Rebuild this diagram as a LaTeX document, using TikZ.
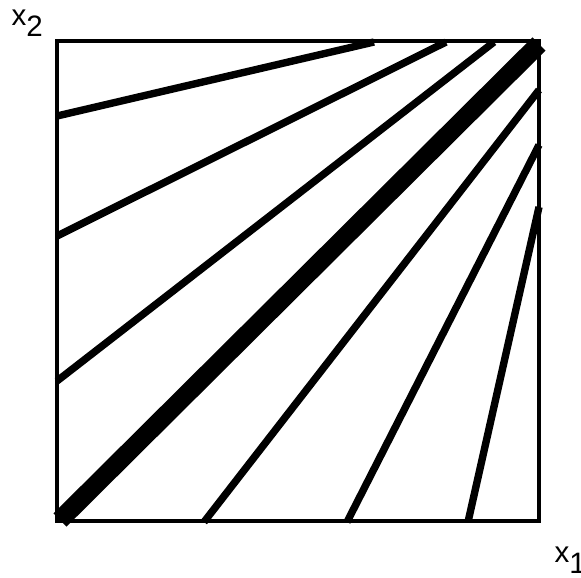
\documentclass[tikz,border=0pt]{standalone}
\usepackage{fontspec}
\setmainfont{Liberation Sans}
\begin{document}
\begin{tikzpicture}[x=0.01cm, y=-0.01cm,
    frame/.style={line width=1.2pt, line join=miter},
    ray/.style={line width=2.1pt},
    diag/.style={line width=5.3pt},
    axislabel/.style={font=\fontsize{8.4}{10}\selectfont, inner sep=0pt, anchor=base west}]
    \useasboundingbox (0,0) rectangle (581,578);
    % unit square
    \coordinate (ll) at (57,521);
    \coordinate (ur) at (539,41);
    \draw[frame] (ll) rectangle (ur);
    % rays from the left edge to the top edge
    \draw[ray] (57,116) -- (374,42);
    \draw[ray] (57,236) -- (446,42);
    \draw[ray] (57,381) -- (494,42);
    % the diagonal
    \draw[diag] (60,520) -- (539,44);
    % rays from the bottom edge to the right edge
    \draw[ray] (204,522) -- (539,90);
    \draw[ray] (347,522) -- (539,145);
    \draw[ray] (468,522) -- (539,207);
    % axis labels
    \node[axislabel] (xtwo) at (11,25) {x\raisebox{-0.75ex}{2}};
    \node[axislabel] (xone) at (554,562) {x\raisebox{-0.75ex}{1}};
\end{tikzpicture}
\end{document}
